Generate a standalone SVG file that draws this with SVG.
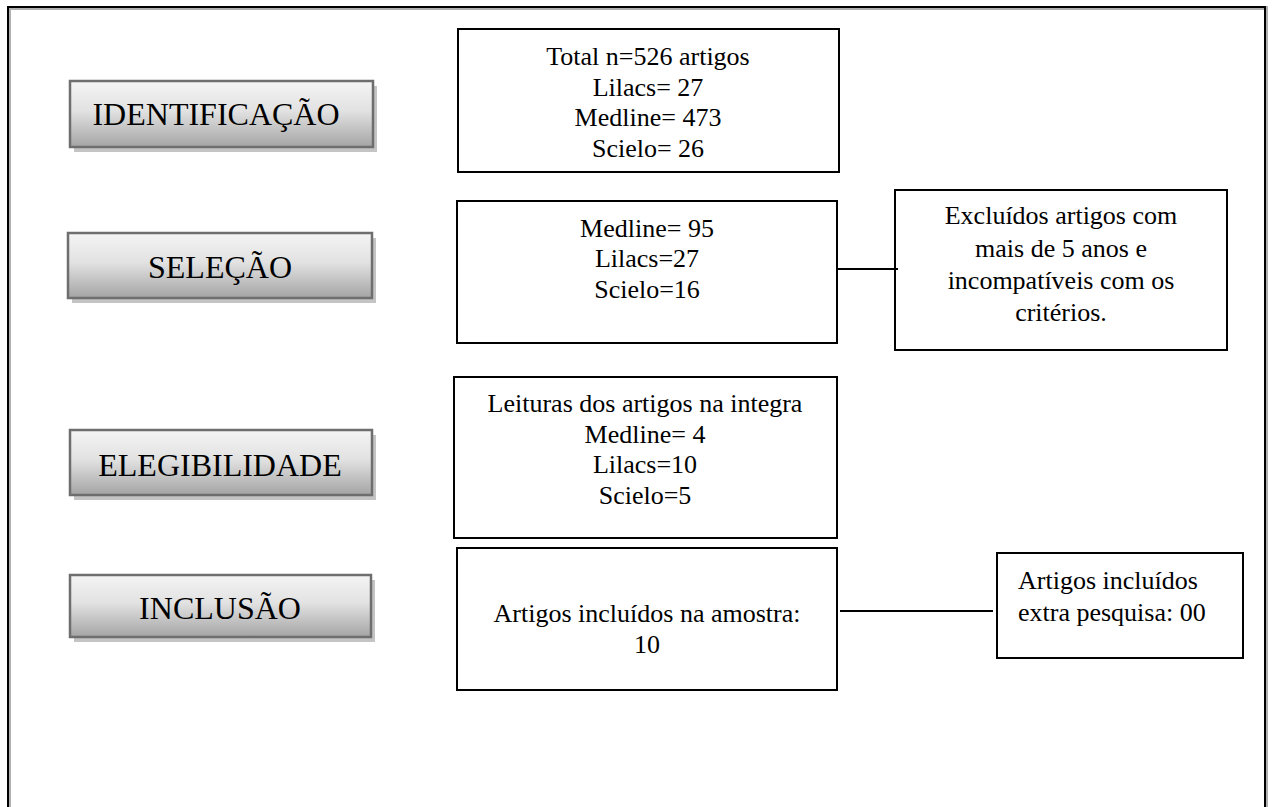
<svg xmlns="http://www.w3.org/2000/svg" width="1273" height="807" viewBox="0 0 1273 807">
<style>
  .lbl { font-family: "Liberation Serif", "Times New Roman", serif; font-size: 32px; fill: #000; text-anchor: middle; }
  .txt { font-family: "Liberation Serif", "Times New Roman", serif; font-size: 26px; fill: #000; text-anchor: middle; }
  .txtl { font-family: "Liberation Serif", "Times New Roman", serif; font-size: 26px; fill: #000; }
  .box { fill: #fff; stroke: #000; stroke-width: 2; }
  .stage { fill: url(#grad); stroke: #6e6e6e; stroke-width: 2.5; }
  .shadow { fill: #c4c4c4; }
  .conn { stroke: #000; stroke-width: 2; fill: none; }
</style>
<defs>
  <linearGradient id="grad" x1="0" y1="0" x2="0" y2="1">
    <stop offset="0" stop-color="#f4f4f4"/>
    <stop offset="0.45" stop-color="#e2e2e2"/>
    <stop offset="1" stop-color="#a4a4a4"/>
  </linearGradient>
</defs>
<rect width="1273" height="807" fill="#fff"/>
<g id="frame">
  <path d="M9 809 V8 H1266 V809" fill="none" stroke="#b0b0b0" stroke-width="4"/>
  <path d="M8 807 V7 H1265 V807" fill="none" stroke="#000" stroke-width="2"/>
</g>
<g id="stage-identificacao">
  <rect class="shadow" x="74" y="86" width="303" height="66"/>
  <rect class="stage" x="70" y="81" width="303" height="66"/>
  <text class="lbl" x="216" y="125">IDENTIFICAÇÃO</text>
</g>
<g id="stage-selecao">
  <rect class="shadow" x="72" y="238" width="304" height="65"/>
  <rect class="stage" x="68" y="233" width="304" height="65"/>
  <text class="lbl" x="220" y="278">SELEÇÃO</text>
</g>
<g id="stage-elegibilidade">
  <rect class="shadow" x="74" y="435" width="302" height="65"/>
  <rect class="stage" x="70" y="430" width="302" height="65"/>
  <text class="lbl" x="220" y="476">ELEGIBILIDADE</text>
</g>
<g id="stage-inclusao">
  <rect class="shadow" x="74" y="580" width="301" height="62"/>
  <rect class="stage" x="70" y="575" width="301" height="62"/>
  <text class="lbl" x="220" y="619">INCLUSÃO</text>
</g>
<g id="box-total">
  <rect class="box" x="458" y="29" width="381" height="143"/>
  <text class="txt" x="648" y="65">Total n=526 artigos</text>
  <text class="txt" x="648" y="96">Lilacs= 27</text>
  <text class="txt" x="648" y="126">Medline= 473</text>
  <text class="txt" x="648" y="157">Scielo= 26</text>
</g>
<g id="box-selecao">
  <rect class="box" x="457" y="201" width="380" height="142"/>
  <text class="txt" x="647" y="237">Medline= 95</text>
  <text class="txt" x="647" y="267">Lilacs=27</text>
  <text class="txt" x="647" y="298">Scielo=16</text>
</g>
<g id="box-excluidos">
  <rect class="box" x="895" y="190" width="332" height="160"/>
  <text class="txt" x="1061" y="224">Excluídos artigos com</text>
  <text class="txt" x="1061" y="257">mais de 5 anos e</text>
  <text class="txt" x="1061" y="289">incompatíveis com os</text>
  <text class="txt" x="1061" y="321">critérios.</text>
</g>
<g id="box-leituras">
  <rect class="box" x="454" y="377" width="383" height="161"/>
  <text class="txt" x="645" y="412">Leituras dos artigos na integra</text>
  <text class="txt" x="645" y="443">Medline= 4</text>
  <text class="txt" x="645" y="473">Lilacs=10</text>
  <text class="txt" x="645" y="504">Scielo=5</text>
</g>
<g id="box-amostra">
  <rect class="box" x="457" y="548" width="380" height="142"/>
  <text class="txt" x="647" y="622">Artigos incluídos na amostra:</text>
  <text class="txt" x="647" y="653">10</text>
</g>
<g id="box-extra">
  <rect class="box" x="997" y="553" width="246" height="105"/>
  <text class="txtl" x="1018" y="589">Artigos incluídos</text>
  <text class="txtl" x="1018" y="621">extra pesquisa: 00</text>
</g>
<g id="connectors">
  <line class="conn" x1="837" y1="269" x2="898" y2="269"/>
  <line class="conn" x1="840" y1="611" x2="993" y2="611"/>
</g>
</svg>
